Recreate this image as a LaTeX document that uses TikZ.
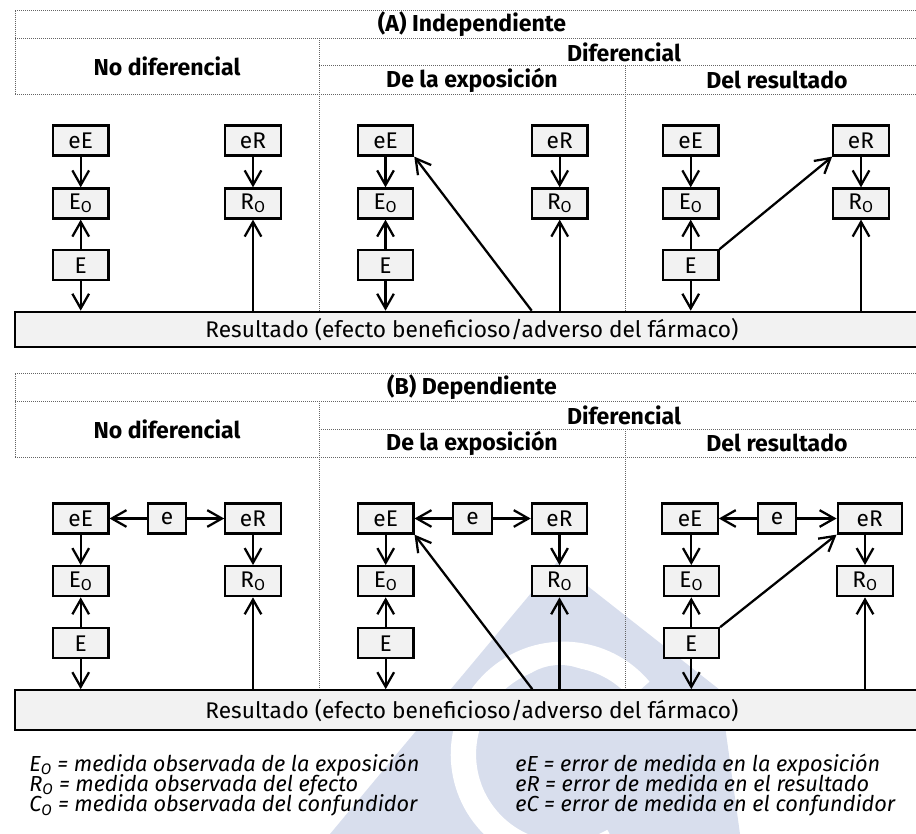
\documentclass[tikz,border=0pt]{standalone}
\usepackage{fontspec}
\setmainfont{Fira Sans}
\usetikzlibrary{arrows.meta}
\definecolor{boxgray}{RGB}{242,242,242}
\definecolor{wmark}{RGB}{216,222,237}
\definecolor{gridgray}{RGB}{100,100,100}
\newcommand\bodysz{\fontsize{17}{20}\selectfont}
\newcommand\headsz{\fontsize{17.3}{20}\selectfont}
\newcommand\legsz{\fontsize{16.3}{19}\selectfont}
\begin{document}
\begin{tikzpicture}[x=0.75pt,y=-0.75pt,
  every node/.style={font=\bodysz},
  bx/.style={draw, line width=1.7pt, fill=boxgray, minimum width=41.5pt,
    minimum height=22.5pt, inner sep=0pt},
  ebx/.style={bx, minimum width=29pt},
  resbox/.style={draw, line width=1.7pt, fill=boxgray, minimum width=685pt,
    inner sep=0pt},
  arr/.style={line width=1.7pt, -{Straight Barb[length=11pt,width=12.5pt,line width=1.7pt]}},
  grid/.style={draw=gridgray, line width=0.75pt, dash pattern=on 0.75pt off 0.75pt},
  head/.style={font=\bfseries\headsz},
  leg/.style={anchor=base west, inner sep=0pt, font=\itshape\legsz}]
\useasboundingbox (0,0) rectangle (916,834);
\clip (0,0) rectangle (916,834);

% faint logo in the background: a drop with a white ring inside
\fill[wmark] (330,834) -- (557,562) -- (720,690) -- (740,834) -- cycle;
\draw[white, line width=19pt] (640,690) arc[start angle=-40, end angle=-300, radius=100];
\fill[wmark] (560,720) circle[radius=55];

% ---------- table headers ----------
\foreach \dy/\title in {0/{(A) Independiente}, 363/{(B) Dependiente}} {
  \begin{scope}[shift={(0,\dy)}]
    \draw[grid] (15,10.7) -- (929,10.7);
    \draw[grid] (15,38.3) -- (929,38.3);
    \draw[grid] (319,66) -- (929,66);
    \draw[grid] (15,94.3) -- (929,94.3);
    \draw[grid] (15,10.7) -- (15,94.3);
    \node[head] at (472,24.5) {\title};
    \node[head] at (167,66.3) {No diferencial};
    \node[head] at (624,52.2) {Diferencial};
    \node[head] at (472,80.2) {De la exposición};
    \node[head] at (777,80.2) {Del resultado};
  \end{scope}
}
\draw[grid] (319,38.3) -- (319,311.7);
\draw[grid] (625,66) -- (625,311.7);
\draw[grid] (319,401.3) -- (319,690);
\draw[grid] (625,429) -- (625,690);

% ---------- (A) independent errors ----------
\node[resbox, minimum height=26.5pt] (aRes) at (472,329.5)
  {Resultado (efecto beneficioso/adverso del fármaco)};

\node[bx] (aLeE) at (80.7,140.5) {eE};
\node[bx] (aLEo) at (80.7,203.5) {E\textsubscript{O}};
\node[bx] (aLE)  at (80.7,265.3) {E};
\node[bx] (aLeR) at (253,140.5) {eR};
\node[bx] (aLRo) at (253,203.5) {R\textsubscript{O}};

\node[bx] (aMeE) at (385.5,140.5) {eE};
\node[bx] (aMEo) at (385.5,203.5) {E\textsubscript{O}};
\node[bx] (aME)  at (385.5,265.3) {E};
\node[bx] (aMeR) at (559.7,140.5) {eR};
\node[bx] (aMRo) at (559.7,203.5) {R\textsubscript{O}};

\node[bx] (aReE) at (690.7,140.5) {eE};
\node[bx] (aREo) at (690.7,203.5) {E\textsubscript{O}};
\node[bx] (aRE)  at (690.7,265.3) {E};
\node[bx] (aReR) at (861,140.5) {eR};
\node[bx] (aRRo) at (861,203.5) {R\textsubscript{O}};

\coordinate (aMx) at (531.7,0);

\draw[arr] (aLeE) -- (aLEo);
\draw[arr] (aLE) -- (aLEo);
\draw[arr] (aLE) -- (aLE |- aRes.north);
\draw[arr] (aLeR) -- (aLRo);
\draw[arr] (aLRo |- aRes.north) -- (aLRo);

\draw[arr] (aMeE) -- (aMEo);
\draw[arr] (aME) -- (aMEo);
\draw[arr] (aME) -- (aME |- aRes.north);
\draw[arr] (aMeR) -- (aMRo);
\draw[arr] (aMRo |- aRes.north) -- (aMRo);
\draw[arr] (aRes.north -| aMx) -- (aMeE.south east);

\draw[arr] (aReE) -- (aREo);
\draw[arr] (aRE) -- (aREo);
\draw[arr] (aRE) -- (aRE |- aRes.north);
\draw[arr] (aReR) -- (aRRo);
\draw[arr] (aRRo |- aRes.north) -- (aRRo);
\draw[arr] (aRE.north east) -- (aReR.south west);

% ---------- (B) dependent errors ----------
\node[resbox, minimum height=30pt] (bRes) at (472,710.3)
  {Resultado (efecto beneficioso/adverso del fármaco)};

\node[bx] (bLeE) at (80.7,518.5) {eE};
\node[ebx] (bLe) at (167,518.5) {e};
\node[bx] (bLEo) at (80.7,581.2) {E\textsubscript{O}};
\node[bx] (bLE)  at (80.7,643.3) {E};
\node[bx] (bLeR) at (253,518.5) {eR};
\node[bx] (bLRo) at (253,581.2) {R\textsubscript{O}};

\node[bx] (bMeE) at (385.7,518.5) {eE};
\node[ebx] (bMe) at (472.5,518.5) {e};
\node[bx] (bMEo) at (385.7,581.2) {E\textsubscript{O}};
\node[bx] (bME)  at (385.7,643.3) {E};
\node[bx] (bMeR) at (559.5,518.5) {eR};
\node[bx] (bMRo) at (559.5,581.2) {R\textsubscript{O}};

\node[bx] (bReE) at (690,518.5) {eE};
\node[ebx] (bRe) at (777,518.5) {e};
\node[bx] (bREo) at (691.3,581.2) {E\textsubscript{O}};
\node[bx] (bRE)  at (691.3,643.3) {E};
\node[bx, minimum width=48pt] (bReR) at (869.7,518.5) {eR};
\node[bx] (bRRo) at (865,581.2) {R\textsubscript{O}};

\coordinate (bMx) at (532.3,0);

\draw[arr] (bLe) -- (bLeE);
\draw[arr] (bLe) -- (bLeR);
\draw[arr] (bLeE) -- (bLEo);
\draw[arr] (bLE) -- (bLEo);
\draw[arr] (bLE) -- (bLE |- bRes.north);
\draw[arr] (bLeR.south -| bLRo) -- (bLRo);
\draw[arr] (bLRo |- bRes.north) -- (bLRo);

\draw[arr] (bMe) -- (bMeE);
\draw[arr] (bMe) -- (bMeR);
\draw[arr] (bMeE) -- (bMEo);
\draw[arr] (bME) -- (bMEo);
\draw[arr] (bME) -- (bME |- bRes.north);
\draw[arr] (bMeR) -- (bMRo);
\draw[arr] (bMRo |- bRes.north) -- (bMRo);
\draw[arr] (bRes.north -| bMx) -- (bMeE.south east);

\draw[arr] (bRe) -- (bReE);
\draw[arr] (bRe) -- (bReR);
\draw[arr] (bReE.south -| bREo) -- (bREo);
\draw[arr] (bRE) -- (bREo);
\draw[arr] (bRE) -- (bRE |- bRes.north);
\draw[arr] (bReR.south -| bRRo) -- (bRRo);
\draw[arr] (bRRo |- bRes.north) -- (bRRo);
\draw[arr] (bRE.north east) -- (bReR.south west);

% ---------- legend ----------
\node[leg] (l1) at (29,771) {E\textsubscript{O} = medida observada de la exposición};
\node[leg] (l2) at (29,791.3) {R\textsubscript{O} = medida observada del efecto};
\node[leg] (l3) at (29,811.6) {C\textsubscript{O} = medida observada del confundidor};
\node[leg] (r1) at (515,771) {eE = error de medida en la exposición};
\node[leg] (r2) at (515,791.3) {eR = error de medida en el resultado};
\node[leg] (r3) at (515,811.6) {eC = error de medida en el confundidor};
\end{tikzpicture}
\end{document}
